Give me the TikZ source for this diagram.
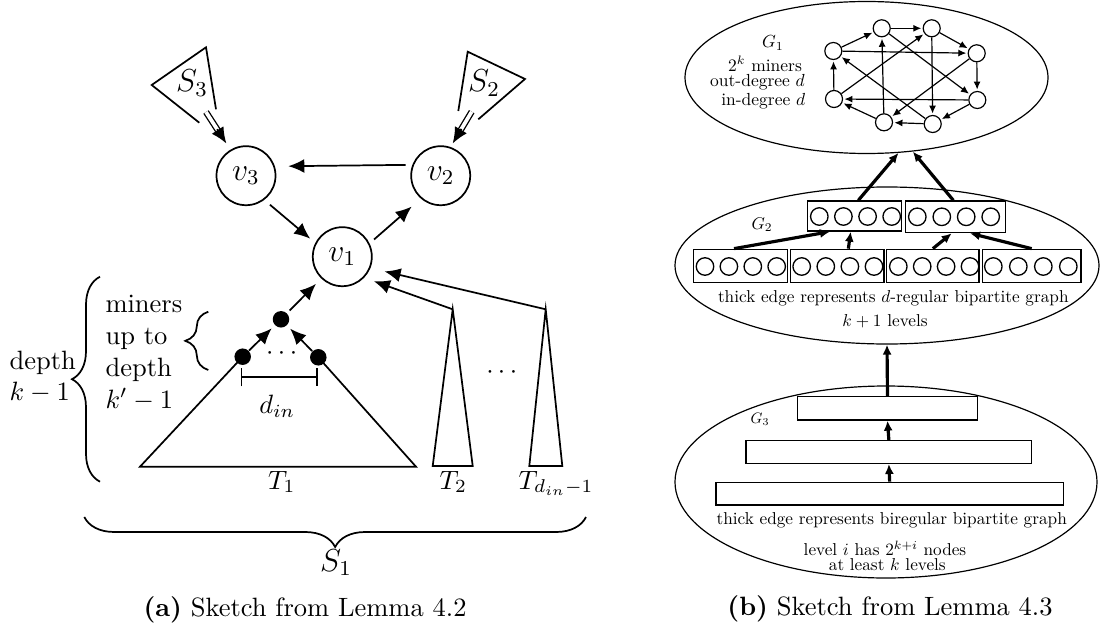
\documentclass[tikz,border=0pt]{standalone}
\usepackage{graphicx}
\usetikzlibrary{arrows.meta,decorations.pathreplacing,calc,shapes.geometric}
\newcommand\bsc[2][0.65]{\scalebox{#1}{#2}}
\begin{document}
\begin{tikzpicture}[x=0.3774pt,y=-0.3774pt,
  vnode/.style={circle,draw,line width=0.65pt,minimum size=22.27pt,inner sep=0pt,font=\fontsize{11.5}{13}\selectfont},
  arr/.style={-{Latex[length=6.04pt,width=5.28pt]},line width=0.65pt},
  ln/.style={line width=0.65pt},
  dbl/.style={line width=0.5pt,double distance=1.4pt},
  dotn/.style={circle,fill,inner sep=0pt,minimum size=6.23pt},
  brc/.style={decorate,line width=0.65pt},
  big/.style={font=\fontsize{11.5}{13}\selectfont},
  gnode/.style={circle,draw,line width=0.45pt,minimum size=6.42pt,inner sep=0pt},
  cnode/.style={circle,draw,line width=0.5pt,minimum size=6.6pt,inner sep=0pt},
  garr/.style={-{Latex[length=3.02pt,width=2.64pt]},line width=0.45pt,shorten >=0.5pt},
  thk/.style={-{Latex[length=3.77pt,width=3.4pt]},line width=1.2pt},
  bx/.style={draw,line width=0.5pt,inner sep=0pt},
  ell/.style={ellipse,draw,line width=0.45pt,inner sep=0pt},
  sm/.style={inner sep=0pt},
]
\useasboundingbox (0,0) rectangle (1108,630);

%%%%%%%%%%%%%%%% (a)
\node[vnode] (v3) at (246,175.7) {$v_3$};
\node[vnode] (v2) at (440.7,175.7) {$v_2$};
\node[vnode] (v1) at (342.3,256.7) {$v_1$};
\draw[arr,shorten <=2.57pt,shorten >=5.06pt] (v2.159) -- (v3.18);
\draw[arr,shorten <=2.79pt,shorten >=2.49pt] (v3.-53) -- (v1.153);
\draw[arr,shorten <=2.23pt,shorten >=4.57pt] (v1.26) -- (v2.-131);

% S3 cone
\coordinate (s3a) at (199.3,122.7);
\coordinate (s3b) at (151.7,85);
\coordinate (s3c) at (206,47.3);
\coordinate (s3d) at (216,109.3);
\draw[ln] (s3a) -- (s3b) -- (s3c) -- (s3d);
\node[big] (S3) at (192,83.3) {$S_3$};
\coordinate (s3o) at (206,112);
\draw[dbl,shorten >=8.49pt] (s3o) -- (v3.121);
\draw[arr,shorten <=7.74pt,shorten >=2.76pt] (s3o) -- (v3.121);

% S2 cone
\coordinate (s2a) at (458.3,111);
\coordinate (s2b) at (467.7,51.7);
\coordinate (s2c) at (525,79);
\coordinate (s2d) at (478.3,119.3);
\draw[ln] (s2a) -- (s2b) -- (s2c) -- (s2d);
\node[big] (S2) at (484,83.3) {$S_2$};
\coordinate (s2o) at (471.7,111.7);
\draw[dbl,shorten >=7.28pt] (s2o) -- (v2.71);
\draw[arr,shorten <=7.55pt,shorten >=1.51pt] (s2o) -- (v2.71);

% T1 tree with dots
\node[dotn] (td) at (281,319.3) {};
\node[dotn] (ld) at (242.7,356.7) {};
\node[dotn] (rd) at (318.3,357.3) {};
\coordinate (t1l) at (140,466.7);
\coordinate (t1r) at (416,466.7);
\draw[ln] (ld.center) -- (t1l) -- (t1r) -- (rd.center);
\draw[arr,shorten >=1.59pt] (ld) -- (td);
\draw[arr,shorten >=1.59pt] (rd) -- (td);
\draw[arr,shorten <=1.36pt,shorten >=2.83pt] (td) -- (v1.-134);
\node (dots1) at (281.7,354) {$\cdots$};
\coordinate (dbl) at (240.7,377.3);
\coordinate (dbr) at (317.7,377.3);
\draw[ln,{Bar[width=6.79pt]}-{Bar[width=6.79pt]}] (dbl) -- (dbr);
\node (din) at (277.3,406) {$d_{in}$};
\node[anchor=base] (T1) at (281.7,489) {$T_1$};

% T2 and T_{d_in-1}
\coordinate (t2a) at (452.7,309.3);
\coordinate (t2l) at (432.7,466);
\coordinate (t2r) at (472.7,466);
\draw[ln] (t2a) -- (t2l) -- (t2r) -- cycle;
\coordinate (t3a) at (545.7,309.3);
\coordinate (t3l) at (529.3,466);
\coordinate (t3r) at (562.3,466);
\draw[ln] (t3a) -- (t3l) -- (t3r) -- cycle;
\draw[arr,shorten >=3.92pt] (t2a) -- (v1.-44);
\draw[arr,shorten >=5.47pt] (t3a) -- (v1.-22);
\node (dots2) at (501.7,373) {$\cdots$};
\node[anchor=base] (T2) at (453.3,489) {$T_2$};
\node[anchor=base west,inner sep=0pt] (T3) at (518,489) {$T_{d_{in}-1}$};

% braces and texts
\draw[brc,decoration={brace,amplitude=10.57pt}] (100,481.7) -- (100,276.7);
\node[align=left,anchor=west,inner sep=0pt] (depth) at (9,377) {depth\\$k-1$};
\draw[brc,decoration={brace,amplitude=8.68pt}] (208.3,370) -- (208.3,311.7);
\node[align=left,anchor=west,inner sep=0pt] (miners) at (105,353) {miners\\up to\\depth\\$k'-1$};
\draw[brc,decoration={brace,amplitude=11.32pt}] (586,517) -- (84.3,517);
\node[big,anchor=base] (S1) at (336,571) {$S_1$};

\node (capa) at (305,610) {\textbf{(a)} Sketch from Lemma 4.2};

%%%%%%%%%%%%%%%% (b)
\node[ell,minimum width=137pt,minimum height=57.36pt] (G1) at (866.5,77.5) {};
\node[ell,minimum width=160.02pt,minimum height=59.25pt] (G2) at (887,265.5) {};
\node[ell,minimum width=159.26pt,minimum height=72.46pt] (G3) at (886,482) {};

% G1 contents
\node[sm] (g1l) at (773,43) {\bsc[0.66]{$G_1$}};
\node[sm] (g1a) at (765,64) {\bsc[0.66]{$2^k$ miners}};
\node[sm] (g1b) at (757.5,82) {\bsc[0.66]{out-degree $d$}};
\node[sm] (g1c) at (763.3,101.5) {\bsc[0.66]{in-degree $d$}};
\node[gnode] (n1) at (881.7,28.3) {};
\node[gnode] (n2) at (931.7,28.3) {};
\node[gnode] (n3) at (976.7,53.3) {};
\node[gnode] (n4) at (977.3,100) {};
\node[gnode] (n5) at (932.7,124) {};
\node[gnode] (n6) at (884,122.3) {};
\node[gnode] (n7) at (834,99) {};
\node[gnode] (n8) at (833.3,51) {};
\foreach \a/\b in {1/2,2/3,3/4,4/5,5/6,6/7,7/8,8/1,1/4,2/5,3/6,4/7,5/8,6/1,7/2,8/3}
  \draw[garr] (n\a) -- (n\b);

% G2 contents
\node[sm] (g2l) at (762,224.5) {\bsc[0.64]{$G_2$}};
\node[bx,minimum width=35.48pt,minimum height=11.32pt] (bA) at (854.7,216) {};
\node[bx,minimum width=37.74pt,minimum height=11.96pt] (bB) at (955.7,216.8) {};
\node[bx,minimum width=35.63pt,minimum height=12.61pt] (bC) at (740.5,266) {};
\node[bx,minimum width=35.21pt,minimum height=12.61pt] (bD) at (837.35,266) {};
\node[bx,minimum width=34.83pt,minimum height=12.61pt] (bE) at (932.85,266) {};
\node[bx,minimum width=37.25pt,minimum height=12.61pt] (bF) at (1031.65,266) {};
\foreach \x [count=\i] in {819.3,843.4,867.6,891.7} \node[cnode] (ca\i) at (\x,216.5) {};
\foreach \x [count=\i] in {917.3,941.8,966.2,990.7} \node[cnode] (cb\i) at (\x,216.8) {};
\foreach \x [count=\i] in {705,728.9,752.8,776.7} \node[cnode] (cc\i) at (\x,266.5) {};
\foreach \x [count=\i] in {801.7,825.8,849.9,874} \node[cnode] (cd\i) at (\x,266.5) {};
\foreach \x [count=\i] in {898.3,922.2,946.1,970} \node[cnode] (ce\i) at (\x,266.5) {};
\foreach \x [count=\i] in {993.3,1018.3,1043.3,1068.3} \node[cnode] (cf\i) at (\x,266.5) {};
\draw[thk] ([xshift=-2.45pt]bC.north) -- ([xshift=-9.32pt]bA.south);
\draw[thk] ([xshift=4.15pt]bD.north) -- ([xshift=-1.51pt]bA.south);
\draw[thk] (bE.north) -- ([xshift=-1.51pt]bB.south);
\draw[thk] (bF.north) -- ([xshift=5.4pt]bB.south);
\draw[thk] ([xshift=1.36pt]bA.north) -- (G1.-67);
\draw[thk] ([xshift=-0.91pt]bB.north) -- (G1.-58);
\node[sm] (g2t) at (893.3,298.3) {\bsc{thick edge represents $d$-regular bipartite graph}};
\node[sm] (g2u) at (885,321.7) {\bsc{$k+1$ levels}};

% G3 contents
\node[sm] (g3l) at (760,419.3) {\bsc[0.57]{$G_3$}};
\node[bx,minimum width=68.08pt,minimum height=8.79pt] (b1) at (887.5,408.35) {};
\node[bx,minimum width=107.82pt,minimum height=8.53pt] (b2) at (888.85,452) {};
\node[bx,minimum width=131.07pt,minimum height=8.57pt] (b3) at (889.65,493.65) {};
\draw[thk] (b1.north) -- (G2.south);
\draw[thk] (b2.north) -- (b1.south);
\draw[thk] (b3.north) -- (b2.south);
\node[sm] (g3t) at (891.7,520) {\bsc{thick edge represents biregular bipartite graph}};
\node[sm] (g3u) at (885,548.3) {\bsc{level $i$ has $2^{k+i}$ nodes}};
\node[sm] (g3v) at (887.3,565) {\bsc{at least $k$ levels}};

\node (capb) at (890,609) {\textbf{(b)} Sketch from Lemma 4.3};
\end{tikzpicture}
\end{document}
